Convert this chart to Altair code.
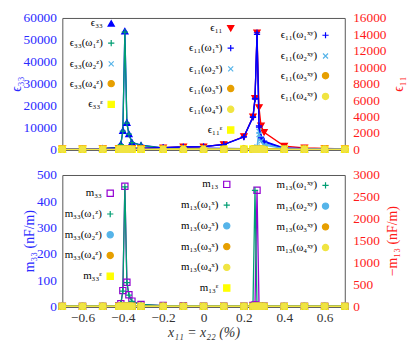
import altair as alt
import pandas as pd

X = [-0.7, -0.6, -0.5, -0.42, -0.41, -0.40, -0.39, -0.38, -0.37, -0.355, -0.31, -0.2, -0.1,
     0.0, 0.1, 0.2, 0.245, 0.255, 0.265, 0.275, 0.285, 0.3, 0.4, 0.5, 0.6, 0.7]

# ---- top panel, left axis (eps33)
EPS33 = [100, 200, 400, 900, 2300, 8500, 54000, 12200, 7000, 3200, 1900, 700, 600,
         500, 400, 300, 250, 250, 250, 250, 250, 200, 150, 100, 80, 60]
EPS33_W1Z = [80, 150, 350, 800, 2200, 8300, 53500, 12000, 6900, 3100, 1800, 500, 400,
             300, 250, 200, 150, 150, 150, 150, 150, 120, 100, 60, 50, 40]
EPS33_W2Z = [0, 0, 0, 0, 0, 0, 0, 0, 0, 0, 0, 0, 0, 0, 0, 0, 0, 0, 0, 0, 0, 0, 0, 0, 0, 0]
EPS33_W4Z = [0, 0, 0, 0, 0, 0, 0, 0, 0, 0, 0, 0, 0, 0, 0, 0, 0, 0, 0, 0, 0, 0, 0, 0, 0, 0]
EPS33_E = [0, 0, 0, 0, 0, 0, 0, 0, 0, 0, 0, 0, 0, 0, 0, 0, 0, 0, 0, 0, 0, 0, 0, 0, 0, 0]

# ---- top panel, right axis (eps11)
EPS11 = [50, 60, 80, 100, 100, 100, 100, 100, 100, 110, 120, 200, 300,
         320, 590, 1560, 3960, 6200, 14200, 5100, 2860, 2080, 390, 180, 100, 60]
EPS11_W1X = [50, 60, 80, 100, 100, 100, 100, 100, 100, 110, 120, 200, 300,
             320, 590, 1530, 3960, 6200, 14200, 2860, 1500, 1000, 150, 80, 50, 30]
EPS11_W2X = [0, 0, 0, 0, 0, 0, 0, 0, 0, 0, 0, 0, 0,
             0, 0, 0, 0, 0, 300, 2200, 1300, 700, 100, 50, 30, 20]
EPS11_W3X = [0, 0, 0, 0, 0, 0, 0, 0, 0, 0, 0, 0, 0, 0, 0, 0, 0, 0, 0, 0, 0, 0, 0, 0, 0, 0]
EPS11_W4X = [0, 0, 0, 0, 0, 0, 0, 0, 0, 0, 0, 0, 0, 0, 0, 0, 0, 0, 0, 0, 0, 0, 0, 0, 0, 0]
EPS11_E = [0, 0, 0, 0, 0, 0, 0, 0, 0, 0, 0, 0, 0, 0, 0, 0, 0, 0, 0, 0, 0, 0, 0, 0, 0, 0]
EPS11_W1XY = [50, 60, 80, 100, 100, 100, 100, 100, 100, 110, 120, 200, 300,
              320, 580, 1500, 3900, 6100, 14000, 2700, 1400, 900, 130, 70, 40, 25]
EPS11_W2XY = [0, 0, 0, 0, 0, 0, 0, 0, 0, 0, 0, 0, 0,
              0, 0, 0, 0, 0, 200, 1800, 1000, 500, 80, 40, 20, 10]
EPS11_W3XY = [0, 0, 0, 0, 0, 0, 0, 0, 0, 0, 0, 0, 0, 0, 0, 0, 0, 0, 0, 0, 0, 0, 0, 0, 0, 0]
EPS11_W4XY = [0, 0, 0, 0, 0, 0, 0, 0, 0, 0, 0, 0, 0, 0, 0, 0, 0, 0, 0, 0, 0, 0, 0, 0, 0, 0]

# ---- bottom panel, left axis (m33)
M33 = [0, 0, 0, 2, 10, 60, 457, 92, 44, 20, 7, 3, 2, 1, 1, 1, 1, 1, 1, 1, 1, 1, 0, 0, 0, 0]
M33_W1Z = [0, 0, 0, 2, 10, 58, 455, 90, 43, 19, 7, 3, 2, 1, 1, 1, 1, 1, 1, 1, 1, 1, 0, 0, 0, 0]
M33_W2Z = [0, 0, 0, 0, 0, 0, 0, 0, 0, 0, 0, 0, 0, 0, 0, 0, 0, 0, 0, 0, 0, 0, 0, 0, 0, 0]
M33_W4Z = [0, 0, 0, 0, 0, 0, 0, 0, 0, 0, 0, 0, 0, 0, 0, 0, 0, 0, 0, 0, 0, 0, 0, 0, 0, 0]
M33_E = [0, 0, 0, 0, 0, 0, 0, 0, 0, 0, 0, 0, 0, 0, 0, 0, 0, 0, 0, 0, 0, 0, 0, 0, 0, 0]

# ---- bottom panel, right axis (-m13)
M13 = [0, 0, 0, 0, 0, 0, 0, 0, 0, 0, 0, 0, 0, 0, 0, 0, 20, 30, 2650, 10, 0, 0, 0, 0, 0, 0]
M13_W1X = [0, 0, 0, 0, 0, 0, 0, 0, 0, 0, 0, 0, 0, 0, 0, 0, 20, 2650, 0, 0, 0, 0, 0, 0, 0, 0]
M13_W2X = [0, 0, 0, 0, 0, 0, 0, 0, 0, 0, 0, 0, 0, 0, 0, 0, 0, 0, 0, 0, 0, 0, 0, 0, 0, 0]
M13_W3X = [0, 0, 0, 0, 0, 0, 0, 0, 0, 0, 0, 0, 0, 0, 0, 0, 0, 0, 0, 0, 0, 0, 0, 0, 0, 0]
M13_W4X = [0, 0, 0, 0, 0, 0, 0, 0, 0, 0, 0, 0, 0, 0, 0, 0, 0, 0, 0, 0, 0, 0, 0, 0, 0, 0]
M13_E = [0, 0, 0, 0, 0, 0, 0, 0, 0, 0, 0, 0, 0, 0, 0, 0, 0, 0, 0, 0, 0, 0, 0, 0, 0, 0]
M13_W1XY = [0, 0, 0, 0, 0, 0, 0, 0, 0, 0, 0, 0, 0, 0, 0, 0, 0, 0, 0, 0, 0, 0, 0, 0, 0, 0]
M13_W2XY = [0, 0, 0, 0, 0, 0, 0, 0, 0, 0, 0, 0, 0, 0, 0, 0, 0, 0, 0, 0, 0, 0, 0, 0, 0, 0]
M13_W3XY = [0, 0, 0, 0, 0, 0, 0, 0, 0, 0, 0, 0, 0, 0, 0, 0, 0, 0, 0, 0, 0, 0, 0, 0, 0, 0]
M13_W4XY = [0, 0, 0, 0, 0, 0, 0, 0, 0, 0, 0, 0, 0, 0, 0, 0, 0, 0, 0, 0, 0, 0, 0, 0, 0, 0]

X_TICKS = [-0.6, -0.4, -0.2, 0, 0.2, 0.4, 0.6]
EPS33_TICKS = [0, 10000, 20000, 30000, 40000, 50000, 60000]
EPS11_TICKS = [0, 2000, 4000, 6000, 8000, 10000, 12000, 14000, 16000]
M33_TICKS = [0, 100, 200, 300, 400, 500]
M13_TICKS = [0, 500, 1000, 1500, 2000, 2500, 3000]

FONT = "Liberation Serif"
BLUE = "#0000ff"
RED = "#ff0000"
TEAL = "#009e73"
LBLUE = "#56b4e9"
ORANGE = "#e69f00"
YEL = "#f0e442"
BYEL = "#ffff00"
PURPLE = "#9400d3"
NONE = "transparent"
AXBLUE = "#2a2aff"
AXRED = "#ff1a1a"

PLUS = "M-1,0L1,0M0,-1L0,1"
XSH = "M-0.8,-0.8L0.8,0.8M-0.8,0.8L0.8,-0.8"


def make_df(names, series):
    rows = []
    for k, (n, vals) in enumerate(zip(names, series)):
        for x, v in zip(X, vals):
            rows.append({"x": x, "v": v, "s": n, "k": k})
    return pd.DataFrame(rows)


def group(names, series, colors, shapes, fills, ydom, yaxis, xaxis, lx, ly):
    df = make_df(names, series)
    legend = alt.Legend(orient="none", legendX=lx, legendY=ly, title=None,
                        labelFont=FONT, labelFontSize=11, labelAlign="right",
                        labelOffset={"expr": "-14"}, rowPadding=8, symbolSize=40,
                        symbolStrokeWidth=1.2, padding=0)
    s_stroke = alt.Scale(domain=names, range=colors)
    s_fill = alt.Scale(domain=names, range=fills)
    s_shape = alt.Scale(domain=names, range=shapes)
    xenc = alt.X("x:Q", scale=alt.Scale(domain=[-0.7, 0.7], nice=False, zero=False), axis=xaxis)
    yenc = alt.Y("v:Q", scale=alt.Scale(domain=ydom, nice=False), axis=yaxis)
    line = alt.Chart(df).mark_line(strokeWidth=1.3).encode(
        x=xenc, y=yenc,
        stroke=alt.Stroke("s:N", scale=s_stroke, legend=legend),
    )
    pts = alt.Chart(df).mark_point(size=40, strokeWidth=1.2, opacity=1).encode(
        x=xenc, y=yenc,
        stroke=alt.Stroke("s:N", scale=s_stroke, legend=legend),
        fill=alt.Fill("s:N", scale=s_fill, legend=legend),
        shape=alt.Shape("s:N", scale=s_shape, legend=legend),
        order=alt.Order("k:Q"),
    )
    return alt.layer(line, pts)


def yax(orient, values, title, color):
    extra = {}
    if orient == "right":
        extra = dict(titleAngle=270, titleBaseline="top", labelPadding=8, titlePadding=6)
    else:
        extra = dict(labelPadding=6, titlePadding=0)
    return alt.Axis(orient=orient, values=values, format="d", title=title,
                    labelColor=color, titleColor=color, ticks=False, domain=False,
                    grid=False, labelFont=FONT, labelFontSize=13.5, titleFont=FONT,
                    titleFontSize=14, titleFontWeight="normal", minExtent=0, **extra)


x_top = alt.Axis(values=X_TICKS, labels=False, ticks=False, title=None, grid=False,
                 domain=True, domainColor="black", domainWidth=1.2, minExtent=0)
x_bot = alt.Axis(values=X_TICKS, format="~g", title="x₁₁ = x₂₂ (%)", ticks=False,
                 grid=False, domain=True, domainColor="black", domainWidth=1.2,
                 labelFont=FONT, labelFontSize=13.5, labelColor="#333", labelPadding=4,
                 titleFont=FONT, titleFontSize=14, titleFontWeight="normal",
                 titleFontStyle="italic", titleColor="#333", titlePadding=2, minExtent=0)

ax_e33 = yax("left", EPS33_TICKS, "ϵ₃₃", AXBLUE)
ax_e11 = yax("right", EPS11_TICKS, "ϵ₁₁", AXRED)
ax_m33 = yax("left", M33_TICKS, "m₃₃ (nF/m)", AXBLUE)
ax_m13 = yax("right", M13_TICKS, "−m₁₃ (nF/m)", AXRED)

tl = group(["ϵ₃₃", "ϵ₃₃(ω₁ᶻ)", "ϵ₃₃(ω₂ᶻ)", "ϵ₃₃(ω₄ᶻ)", "ϵ₃₃ᵋ"],
           [EPS33, EPS33_W1Z, EPS33_W2Z, EPS33_W4Z, EPS33_E],
           [BLUE, TEAL, LBLUE, ORANGE, BYEL],
           ["triangle-up", PLUS, XSH, "circle", "square"],
           [BLUE, NONE, NONE, ORANGE, BYEL],
           [0, 60000], ax_e33, x_top, 44, 0)
tr = group(["ϵ₁₁", "ϵ₁₁(ω₁ˣ)", "ϵ₁₁(ω₂ˣ)", "ϵ₁₁(ω₃ˣ)", "ϵ₁₁(ω₄ˣ)", "ϵ₁₁ᵋ"],
           [EPS11, EPS11_W1X, EPS11_W2X, EPS11_W3X, EPS11_W4X, EPS11_E],
           [RED, BLUE, LBLUE, ORANGE, YEL, BYEL],
           ["triangle-down", PLUS, XSH, "circle", "circle", "square"],
           [RED, NONE, NONE, ORANGE, YEL, BYEL],
           [0, 16000], ax_e11, x_top, 165, 5)
txy = group(["ϵ₁₁(ω₁ˣʸ)", "ϵ₁₁(ω₂ˣʸ)", "ϵ₁₁(ω₃ˣʸ)", "ϵ₁₁(ω₄ˣʸ)"],
            [EPS11_W1XY, EPS11_W2XY, EPS11_W3XY, EPS11_W4XY],
            [BLUE, LBLUE, ORANGE, YEL],
            [PLUS, XSH, "circle", "circle"],
            [NONE, NONE, ORANGE, YEL],
            [0, 16000], ax_e11, x_top, 261, 12)

bl = group(["m₃₃", "m₃₃(ω₁ᶻ)", "m₃₃(ω₂ᶻ)", "m₃₃(ω₄ᶻ)", "m₃₃ᵋ"],
           [M33, M33_W1Z, M33_W2Z, M33_W4Z, M33_E],
           [PURPLE, TEAL, LBLUE, ORANGE, BYEL],
           ["square", PLUS, "circle", "circle", "square"],
           [NONE, NONE, LBLUE, ORANGE, BYEL],
           [0, 500], ax_m33, x_bot, 43, 13)
br = group(["m₁₃", "m₁₃(ω₁ˣ)", "m₁₃(ω₂ˣ)", "m₁₃(ω₃ˣ)", "m₁₃(ω₄ˣ)", "m₁₃ᵋ"],
           [M13, M13_W1X, M13_W2X, M13_W3X, M13_W4X, M13_E],
           [PURPLE, TEAL, LBLUE, ORANGE, YEL, BYEL],
           ["square", PLUS, "circle", "circle", "circle", "square"],
           [NONE, NONE, LBLUE, ORANGE, YEL, BYEL],
           [0, 3000], ax_m13, x_bot, 161, 4)
bxy = group(["m₁₃(ω₁ˣʸ)", "m₁₃(ω₂ˣʸ)", "m₁₃(ω₃ˣʸ)", "m₁₃(ω₄ˣʸ)"],
            [M13_W1XY, M13_W2XY, M13_W3XY, M13_W4XY],
            [TEAL, LBLUE, ORANGE, YEL],
            [PLUS, "circle", "circle", "circle"],
            [NONE, LBLUE, ORANGE, YEL],
            [0, 3000], ax_m13, x_bot, 261, 5)

IND = dict(stroke="independent", fill="independent", shape="independent")

top = alt.layer(
    tl, alt.layer(tr, txy).resolve_scale(**IND)
).resolve_scale(y="independent", **IND).properties(width=286, height=133)

bottom = alt.layer(
    bl, alt.layer(br, bxy).resolve_scale(**IND)
).resolve_scale(y="independent", **IND).properties(width=286, height=133)

chart = alt.vconcat(top, bottom, spacing=11).properties(
    padding={"left": 0, "top": 0, "right": 0, "bottom": 0}
).configure_view(stroke="#555", strokeWidth=1)

chart.save("out.html", embed_options={"renderer": "svg", "actions": False})
